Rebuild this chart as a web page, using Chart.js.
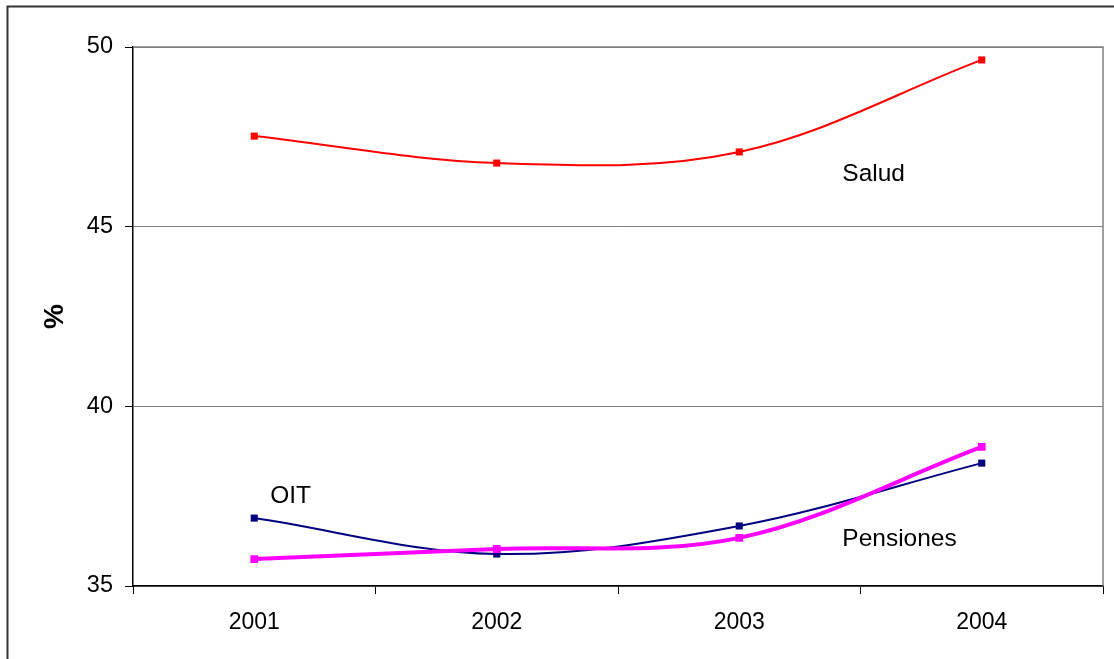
<!DOCTYPE html>
<html>
<head>
<meta charset="utf-8">
<script src="https://cdn.jsdelivr.net/npm/chart.js@4/dist/chart.umd.min.js"></script>
<style>
  html, body { margin: 0; padding: 0; background: #fff; }
  #wrap { width: 1114px; height: 659px; position: relative; }
</style>
</head>
<body>
<div id="wrap"><canvas id="c" width="1114" height="659"></canvas></div>
<script>
// Years on the horizontal axis
const years = ['2001', '2002', '2003', '2004'];

// Series values (%)
const salud = [47.52, 46.77, 47.08, 49.64];
const oit = [36.89, 35.89, 36.67, 38.42];
const pensiones = [35.75, 36.03, 36.34, 38.87];

// Vertical axis range and step
const yMin = 35;
const yMax = 50;
const yStep = 5;

// Series names written next to their lines: [text, category position, value]
const seriesLabels = [
  ['Salud', 2.425, 46.46],
  ['Pensiones', 2.425, 36.3],
  ['OIT', 0.066, 37.5]
];

const FONT = '"Liberation Sans", Arial, sans-serif';

const frame = {
  id: 'frame',
  beforeDraw(chart) {
    const ctx = chart.ctx;
    ctx.save();
    ctx.fillStyle = '#fff';
    ctx.fillRect(0, 0, chart.width, chart.height);
    // outer frame (top and left edges visible)
    ctx.strokeStyle = '#333';
    ctx.lineWidth = 2;
    ctx.beginPath();
    ctx.moveTo(7.5, chart.height);
    ctx.lineTo(7.5, 6.5);
    ctx.lineTo(chart.width, 6.5);
    ctx.stroke();
    ctx.restore();
  },
  beforeDatasetsDraw(chart) {
    const { ctx, chartArea: a } = chart;
    ctx.save();
    ctx.strokeStyle = '#808080';
    ctx.lineWidth = 1.5;
    ctx.beginPath();
    ctx.moveTo(a.left, a.top);
    ctx.lineTo(a.right, a.top);
    ctx.lineTo(a.right, a.bottom);
    ctx.stroke();
    ctx.restore();
  },
  afterDatasetsDraw(chart) {
    const { ctx, scales } = chart;
    ctx.save();
    ctx.fillStyle = '#000';
    ctx.font = '24.5px ' + FONT;
    ctx.textAlign = 'left';
    ctx.textBaseline = 'middle';
    seriesLabels.forEach(([text, xv, yv]) => {
      ctx.fillText(text, scales.x.getPixelForValue(xv), scales.y.getPixelForValue(yv));
    });
    ctx.restore();
  }
};

new Chart(document.getElementById('c'), {
  type: 'line',
  data: {
    labels: years,
    datasets: [
      {
        label: 'Salud', data: salud, order: 2,
        borderColor: '#ff0000', backgroundColor: '#ff0000',
        borderWidth: 2, tension: 0.35,
        pointStyle: 'rect', pointRadius: 5, pointBorderWidth: 0
      },
      {
        label: 'Pensiones', data: pensiones, order: 0,
        borderColor: '#ff00ff', backgroundColor: '#ff00ff',
        borderWidth: 4, tension: 0.35,
        pointStyle: 'rect', pointRadius: 5.5, pointBorderWidth: 0
      },
      {
        label: 'OIT', data: oit, order: 1,
        borderColor: '#000080', backgroundColor: '#000080',
        borderWidth: 2, tension: 0.35,
        pointStyle: 'rect', pointRadius: 5, pointBorderWidth: 0
      }
    ]
  },
  options: {
    responsive: false,
    animation: false,
    layout: { padding: { left: 0, right: 11, top: 47, bottom: 0 } },
    plugins: {
      legend: { display: false },
      tooltip: { enabled: false }
    },
    scales: {
      x: {
        offset: true,
        afterFit(s) { s.height = 73; },
        grid: {
          drawOnChartArea: false, drawTicks: true, tickLength: 8,
          color: '#000', tickColor: '#000', offset: true, lineWidth: 1
        },
        border: { color: '#000', width: 1.5 },
        ticks: { color: '#000', font: { family: FONT, size: 23 }, padding: 15, maxRotation: 0 }
      },
      y: {
        min: yMin, max: yMax,
        afterFit(s) { s.width = 133; },
        grid: {
          color: '#808080', tickColor: '#000', tickLength: 8, lineWidth: 1
        },
        border: { color: '#000', width: 1.5 },
        ticks: { stepSize: yStep, color: '#000', font: { family: FONT, size: 23.5 }, padding: 12 },
        title: {
          display: true, text: '%', color: '#000',
          font: { family: FONT, size: 28, weight: 'bold' },
          padding: { top: 38, bottom: 0 }
        }
      }
    }
  },
  plugins: [frame]
});
</script>
</body>
</html>
